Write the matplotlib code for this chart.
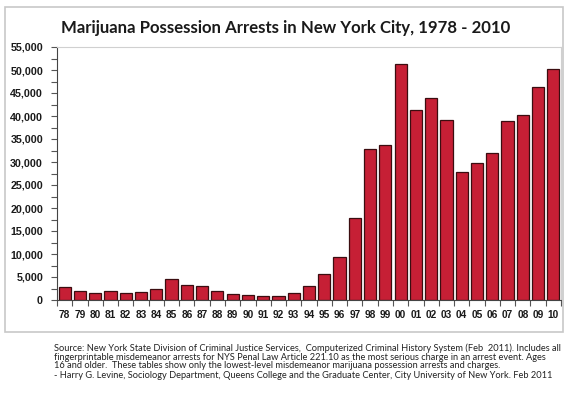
import matplotlib.pyplot as plt
import matplotlib.patches as patches
from matplotlib.ticker import FuncFormatter, MultipleLocator
import numpy as np

# Marijuana possession arrests, NYC, 1978-2010
years = ['78', '79', '80', '81', '82', '83', '84', '85', '86', '87', '88',
         '89', '90', '91', '92', '93', '94', '95', '96', '97', '98', '99',
         '00', '01', '02', '03', '04', '05', '06', '07', '08', '09', '10']
arrests = [2900, 2000, 1500, 1900, 1600, 1750, 2500, 4600, 3300, 3000, 2000,
           1200, 1000, 900, 900, 1500, 3100, 5700, 9400, 17900, 32900, 33700,
           51200, 41400, 44000, 39100, 27900, 29700, 31900, 39000, 40300, 46400, 50300]

title = 'Marijuana Possession Arrests in New York City, 1978 - 2010'
source_lines = [
    'Source: New York State Division of Criminal Justice Services,  Computerized Criminal History System (Feb  2011). Includes all',
    'fingerprintable misdemeanor arrests for NYS Penal Law Article 221.10 as the most serious charge in an arrest event. Ages',
    '16 and older.  These tables show only the lowest-level misdemeanor marijuana possession arrests and charges.',
    '- Harry G. Levine, Sociology Department, Queens College and the Graduate Center, City University of New York. Feb 2011',
]

fig = plt.figure(figsize=(5.72, 3.95), dpi=100)

# outer frame
fig.patches.append(patches.Rectangle((5 / 572, 63 / 395), 558 / 572, 325 / 395,
                                     transform=fig.transFigure, fill=False,
                                     edgecolor='#c8c8c8', linewidth=1.2))

ax = fig.add_axes([57 / 572, 95 / 395, 504 / 572, 253 / 395])
x = np.arange(len(years))
ax.bar(x, arrests, width=0.8, color='#c61f35', edgecolor='#3b0d10', linewidth=0.9)

ax.set_xlim(-0.5, len(years) - 0.5)
ax.set_ylim(0, 55000)
ax.yaxis.set_major_locator(MultipleLocator(5000))
ax.yaxis.set_minor_locator(MultipleLocator(2500))
ax.yaxis.set_major_formatter(FuncFormatter(lambda v, p: f'{int(v):,}'))
ax.set_xticks(x)
ax.set_xticklabels(years)
ax.set_xticks(np.arange(len(years) + 1) - 0.5, minor=True)

ax.tick_params(axis='y', which='both', direction='out', length=4, width=0.8,
               color='#555555', labelsize=7.7, pad=6)
ax.tick_params(axis='x', which='major', length=0, labelsize=7.3, pad=7)
ax.tick_params(axis='x', which='minor', direction='out', length=4, width=0.8,
               color='#555555')
for lab in ax.get_yticklabels() + ax.get_xticklabels():
    lab.set_fontfamily('Liberation Sans')
    lab.set_fontweight('bold')
    lab.set_color('#1a1a1a')

ax.spines['left'].set_color('#444444')
ax.spines['bottom'].set_color('#444444')
ax.spines['top'].set_color('#d0d0d0')
ax.spines['right'].set_color('#d0d0d0')

fig.text(0.499, 0.929, title, ha='center', va='center', fontsize=12.1,
         fontweight='bold', family='Lato', color='#1a1a1a')

ys = [348, 357, 366, 375]
for line, yp in zip(source_lines, ys):
    fig.text(54 / 572, 1 - yp / 395, line, ha='left', va='center',
             fontsize=6.65, family='Lato', color='#222222')

plt.savefig('out.png', dpi=100)
